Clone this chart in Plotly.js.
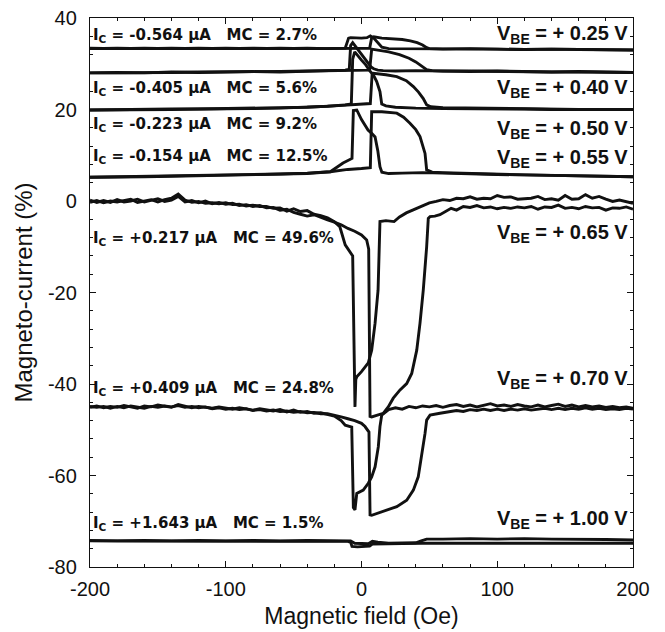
<!DOCTYPE html>
<html>
<head>
<meta charset="utf-8">
<script src="https://cdn.plot.ly/plotly-3.0.1.min.js"></script>
<style>html,body{margin:0;padding:0;background:#fff;}#chart{width:665px;height:632px;}</style>
</head>
<body>
<div id="chart"></div>
<script>
// ---- axis ticks ----
const xTickVals = [-200,-100,0,100,200];
const xTickText = ['-200','-100','0','100','200'];
const yTickVals = [-80,-60,-40,-20,0,20,40];
const yTickText = ['-80','-60','-40','-20','0','20','40'];
// ---- V_BE = +0.25 V ----
const xA_025 = [-200,-180,-160,-140,-120,-100,-80,-60,-40,-25,-12,-10.5,-9.5,-8,-4,0,4,6.5,9,12,15,20,30,45,60,80,100,120,140,160,180,200];
const yA_025 = [33.4,33.3,33.4,33.3,33.4,33.3,33.4,33.3,33.4,33.3,33.4,35.0,35.6,35.7,35.6,35.6,35.7,36.1,35.6,34.6,33.6,33.3,33.3,33.2,33.3,33.2,33.2,33.1,33.2,33.1,33.1,33.0];
const xB_025 = [-200,-180,-160,-140,-120,-100,-80,-60,-40,-20,0,6,7.5,9,15,22,30,36,41,45,48,50,60,80,100,120,140,160,180,200];
const yB_025 = [33.3,33.4,33.3,33.4,33.3,33.4,33.3,33.4,33.3,33.4,33.4,33.4,35.7,35.9,35.6,35.5,35.3,35.0,34.6,34.1,33.5,33.3,33.2,33.3,33.2,33.1,33.2,33.1,33.0,33.0];
// ---- V_BE = +0.40 V ----
const xA_040 = [-200,-180,-160,-140,-120,-100,-80,-60,-40,-25,-12,-9,-8,-6.5,-4,0,4,7,9,12,16,25,40,60,80,100,120,140,160,180,200];
const yA_040 = [28.0,28.1,28.0,28.2,28.1,28.2,28.3,28.2,28.4,28.5,28.6,28.8,34.0,34.6,33.6,31.9,30.3,29.3,28.9,28.6,28.5,28.4,28.5,28.4,28.3,28.4,28.3,28.2,28.3,28.2,28.1];
const xB_040 = [-200,-180,-160,-140,-120,-100,-80,-60,-40,-20,0,6,7.5,12,20,28,35,40,44,48,52,60,80,100,120,140,160,180,200];
const yB_040 = [28.0,28.0,28.1,28.1,28.2,28.2,28.2,28.3,28.4,28.5,28.6,28.6,33.2,33.0,32.6,32.0,31.2,30.4,29.6,28.7,28.5,28.4,28.4,28.3,28.3,28.2,28.2,28.1,28.1];
// ---- V_BE = +0.50 V ----
const xA_050 = [-200,-180,-160,-140,-120,-100,-80,-60,-40,-25,-12,-7.5,-6.5,-5,0,3,6.3,9,11.2,13.6,14.9,18,25,40,60,80,100,120,140,160,180,200];
const yA_050 = [19.9,19.9,20.0,20.0,20.1,20.1,20.2,20.3,20.5,20.7,21.0,21.2,31.0,32.6,30.8,29.8,28.4,27.4,26.1,23.9,21.2,20.8,20.5,20.3,20.2,20.2,20.1,20.1,20.0,20.0,20.0,20.0];
const xB_050 = [-200,-180,-160,-140,-120,-100,-80,-60,-40,-20,0,6.5,7.8,8.7,18,26,33,38.2,42,45.5,48,51,60,80,100,120,140,160,180,200];
const yB_050 = [19.9,20.0,20.0,20.1,20.1,20.2,20.2,20.3,20.5,20.8,21.1,21.3,27.6,27.9,27.6,27.2,26.3,25.0,23.8,22.4,21.0,20.6,20.4,20.3,20.2,20.1,20.1,20.0,20.0,20.0];
// ---- V_BE = +0.55 V ----
const xA_055 = [-200,-180,-160,-140,-120,-100,-80,-60,-40,-23,-13.6,-7,-6,-3.5,0,4.8,7.5,10,12,13.6,15,20,30,45,60,80,100,120,140,160,180,200];
const yA_055 = [5.2,5.3,5.3,5.4,5.5,5.6,5.7,5.9,6.1,6.4,8.3,9.3,19.8,19.9,17.8,15.5,14.8,14.0,11.0,7.5,6.3,6.0,6.1,6.2,6.1,5.9,5.8,5.7,5.6,5.5,5.4,5.3];
const xB_055 = [-200,-180,-160,-140,-120,-100,-80,-60,-40,-23,-10,0,6.5,7.5,15,26,31,35.7,40,43.1,46.8,48,52,60,80,100,120,140,160,180,200];
const yB_055 = [5.2,5.2,5.3,5.4,5.5,5.6,5.7,5.8,6.0,6.4,6.9,7.1,7.3,19.5,19.5,19.2,18.3,17.0,15.6,14.1,10.4,6.8,6.3,6.2,6.0,5.8,5.7,5.6,5.5,5.4,5.3];
// ---- V_BE = +0.65 V ----
const xA_065 = [-200,-195,-190,-185,-180,-175,-170,-165,-160,-155,-150,-145,-140,-135,-130,-125,-120,-115,-110,-105,-100,-95,-90,-85,-80,-75,-70,-65,-60,-55,-50,-45,-40,-35,-30,-25,-20,-16,-12,-8.5,-6.5,-4.8,-4.2,-3.5,0,5,7.5,10,12.2,13.6,18,24,28,33,38,43,50,55,60,65,70,75,80,85,90,95,100,105,110,115,120,125,130,135,140,145,150,155,160,165,170,175,180,185,190,195,200];
const yA_065 = [-0.3,0.1,-0.4,0.0,-0.2,0.1,0.4,-0.3,0.0,0.3,-0.2,0.3,0.6,1.5,0.2,-0.3,-0.1,-0.5,-0.4,-0.6,-0.4,-0.8,-0.7,-1.1,-0.9,-1.2,-1.2,-1.6,-1.5,-2.2,-1.7,-2.3,-2.1,-2.9,-3.2,-3.7,-4.5,-5.6,-9.6,-11.0,-12.0,-45.0,-39.0,-38.4,-37.3,-35.4,-32.6,-26.7,-19.5,-4.5,-4.3,-4.5,-3.5,-2.6,-2.0,-1.3,-0.4,-0.1,0.3,0.1,0.6,0.5,0.9,0.4,0.6,0.5,1.2,0.8,0.9,0.4,0.5,0.6,1.0,0.3,0.5,0.2,1.2,0.4,0.5,1.4,0.6,1.0,0.4,-0.1,0.2,-0.2,-0.5];
const xB_065 = [-200,-195,-190,-185,-180,-175,-170,-165,-160,-155,-150,-145,-140,-135,-130,-125,-120,-115,-110,-105,-100,-95,-90,-85,-80,-75,-70,-65,-60,-55,-50,-45,-40,-35,-30,-25,-20,-15,-10,-5,0,3.8,5.3,6.3,7.5,12,16,19.7,23.4,28.4,33.3,37,40.7,43.1,45.5,48,49.2,50.5,54,57.8,62,66,70,75,80,85,90,95,100,105,110,115,120,125,130,135,140,145,150,155,160,165,170,175,180,185,190,195,200];
const yB_065 = [0.2,-0.3,0.1,-0.3,0.3,-0.2,0.0,0.4,-0.2,0.2,0.5,-0.1,0.2,1.0,-0.2,0.1,-0.4,0.0,-0.6,-0.3,-0.7,-0.5,-1.0,-0.8,-1.2,-1.0,-1.5,-1.4,-2.0,-1.8,-2.5,-2.9,-3.3,-3.0,-3.6,-4.1,-4.6,-5.2,-6.0,-6.6,-7.4,-8.5,-10.5,-47.1,-47.2,-46.8,-46.4,-45.0,-43.1,-41.3,-39.9,-37.7,-32.6,-26.7,-19.5,-10.0,-3.8,-3.4,-3.3,-3.0,-2.3,-1.6,-2.0,-1.2,-1.4,-1.0,-1.5,-1.3,-1.7,-1.4,-1.6,-1.3,-1.5,-1.2,-1.8,-1.3,-1.4,-0.9,-1.6,-1.4,-1.7,-1.2,-1.5,-1.4,-2.0,-1.5,-1.6,-1.3,-1.8];
// ---- V_BE = +0.70 V ----
const xA_070 = [-200,-195,-190,-185,-180,-175,-170,-165,-160,-155,-150,-145,-140,-135,-130,-125,-120,-115,-110,-105,-100,-95,-90,-85,-80,-75,-70,-65,-60,-55,-50,-45,-40,-35,-30,-25,-20,-15,-12,-7.2,-6,-4.8,-3.5,1.3,5,7.5,10,12.4,13.6,14.9,20,25,30,35,40,45,50,55,60,65,70,75,80,85,90,95,100,105,110,115,120,125,130,135,140,145,150,155,160,165,170,175,180,185,190,195,200];
const yA_070 = [-45.1,-44.8,-45.2,-44.9,-45.1,-44.7,-45.0,-45.3,-44.8,-45.0,-44.6,-44.9,-45.1,-44.5,-44.9,-45.2,-44.9,-45.1,-45.3,-45.0,-45.3,-45.5,-45.2,-45.5,-45.7,-45.4,-45.7,-45.9,-45.6,-46.1,-45.7,-46.2,-46.0,-46.4,-46.3,-46.7,-47.0,-48.0,-49.0,-49.4,-67.0,-67.5,-63.9,-63.2,-61.7,-60.3,-58.1,-53.7,-49.3,-46.8,-45.6,-45.2,-45.5,-44.9,-45.2,-44.8,-45.0,-44.7,-45.1,-44.7,-44.5,-44.9,-44.6,-45.0,-44.7,-44.3,-44.8,-44.6,-44.9,-44.5,-44.8,-45.0,-44.6,-45.0,-44.7,-44.4,-44.9,-44.6,-45.0,-44.7,-45.0,-44.8,-45.1,-44.9,-45.2,-45.0,-45.3];
const xB_070 = [-200,-195,-190,-185,-180,-175,-170,-165,-160,-155,-150,-145,-140,-135,-130,-125,-120,-115,-110,-105,-100,-95,-90,-85,-80,-75,-70,-65,-60,-55,-50,-45,-40,-35,-30,-25,-20,-15,-10,-5,0,2.6,5.5,6.3,7.5,16,26,33.3,38.2,41.8,44.3,46.8,48,50.5,57.8,65,70,75,80,85,90,95,100,105,110,115,120,125,130,135,140,145,150,155,160,165,170,175,180,185,190,195,200];
const yB_070 = [-44.9,-45.1,-44.9,-45.3,-44.9,-45.2,-44.8,-45.1,-45.3,-44.9,-45.1,-44.8,-45.0,-44.7,-45.1,-44.9,-45.2,-45.0,-45.4,-45.2,-45.5,-45.3,-45.6,-45.4,-45.8,-45.6,-45.9,-45.7,-46.0,-45.9,-46.2,-46.0,-46.3,-46.2,-46.5,-46.5,-46.8,-47.2,-47.6,-48.0,-48.6,-49.3,-50.5,-68.6,-68.7,-67.9,-66.8,-65.4,-63.2,-60.3,-55.9,-50.8,-47.9,-46.8,-46.4,-46.0,-45.8,-46.0,-45.6,-45.8,-45.5,-45.8,-45.5,-45.8,-45.5,-45.7,-45.4,-45.7,-45.5,-45.3,-45.6,-45.3,-45.6,-45.3,-45.5,-45.2,-45.5,-45.3,-45.6,-45.4,-45.6,-45.3,-45.5];
// ---- V_BE = +1.00 V ----
const xA_100 = [-200,-180,-160,-140,-120,-100,-80,-60,-40,-20,-10,-8,-7,-3,2,6,8,12,20,30,45,60,80,100,120,140,160,180,200];
const yA_100 = [-74.3,-74.3,-74.4,-74.3,-74.3,-74.4,-74.3,-74.3,-74.4,-74.3,-74.4,-74.6,-75.5,-75.6,-75.5,-75.4,-75.0,-75.0,-74.9,-74.9,-74.8,-74.8,-74.7,-74.7,-74.8,-74.7,-74.8,-74.8,-74.8];
const xB_100 = [-200,-180,-160,-140,-120,-100,-80,-60,-40,-20,-8,-5,0,5,8,12,20,30,40,44,48,60,80,100,120,140,160,180,200];
const yB_100 = [-74.2,-74.3,-74.2,-74.3,-74.2,-74.3,-74.2,-74.3,-74.2,-74.3,-74.3,-74.8,-74.9,-74.9,-74.4,-74.6,-74.8,-74.8,-74.7,-74.3,-73.9,-73.9,-73.8,-73.9,-73.8,-73.9,-73.9,-74.0,-74.1];

// ---- labels ----
const icLabels = ['I<sub>C</sub> = -0.564 \u03bcA \u00a0\u00a0MC = 2.7%','I<sub>C</sub> = -0.405 \u03bcA \u00a0\u00a0MC = 5.6%','I<sub>C</sub> = -0.223 \u03bcA \u00a0\u00a0MC = 9.2%','I<sub>C</sub> = -0.154 \u03bcA \u00a0\u00a0MC = 12.5%','I<sub>C</sub> = +0.217 \u03bcA \u00a0\u00a0MC = 49.6%','I<sub>C</sub> = +0.409 \u03bcA \u00a0\u00a0MC = 24.8%','I<sub>C</sub> = +1.643 \u03bcA \u00a0\u00a0MC = 1.5%'];
const icLabelY = [36.1, 24.7, 16.8, 9.8, -8.3, -40.9, -70.4];
const vbeLabels = ['V<sub>BE</sub> = + 0.25 V','V<sub>BE</sub> = + 0.40 V','V<sub>BE</sub> = + 0.50 V','V<sub>BE</sub> = + 0.55 V','V<sub>BE</sub> = + 0.65 V','V<sub>BE</sub> = + 0.70 V','V<sub>BE</sub> = + 1.00 V'];
const vbeLabelY = [36.5, 24.5, 15.6, 9.2, -7.2, -39.1, -69.7];

const branches = [
  [xA_025,yA_025],[xB_025,yB_025],[xA_040,yA_040],[xB_040,yB_040],
  [xA_050,yA_050],[xB_050,yB_050],[xA_055,yA_055],[xB_055,yB_055],
  [xA_065,yA_065],[xB_065,yB_065],[xA_070,yA_070],[xB_070,yB_070],
  [xA_100,yA_100],[xB_100,yB_100]
];
const traces = branches.map(b => ({
  x: b[0], y: b[1], type: 'scatter', mode: 'lines',
  line: {color: '#111', width: 2.9, shape: 'linear'},
  hoverinfo: 'skip', showlegend: false
}));

const annotations = [];
icLabels.forEach((t, i) => annotations.push({
  x: -199.5, y: icLabelY[i], xref: 'x', yref: 'y', text: t, showarrow: false,
  xanchor: 'left', yanchor: 'middle',
  font: {family: 'DejaVu Sans', size: 15, color: '#111', weight: 'bold'}
}));
vbeLabels.forEach((t, i) => annotations.push({
  x: 198, y: vbeLabelY[i], xref: 'x', yref: 'y', text: t, showarrow: false,
  xanchor: 'right', yanchor: 'middle',
  font: {family: 'Liberation Sans', size: 20, color: '#111', weight: 'bold'}
}));

const axisFont = {family: 'Liberation Sans, Arial, sans-serif', size: 20, color: '#111'};
const layout = {
  width: 665, height: 632,
  margin: {l: 90, r: 32, t: 18, b: 65},
  paper_bgcolor: '#fff', plot_bgcolor: '#fff',
  showlegend: false,
  xaxis: {
    range: [-200, 200], tickmode: 'array', tickvals: xTickVals, ticktext: xTickText,
    ticks: 'inside', ticklen: 6, tickwidth: 1, tickcolor: '#111',
    minor: {dtick: 20, ticks: 'inside', ticklen: 3, tickcolor: '#111'},
    showline: true, linecolor: '#111', linewidth: 1.2, mirror: 'allticks',
    showgrid: false, zeroline: false, tickfont: axisFont,
    ticklabelstandoff: 4,
    title: {text: 'Magnetic field (Oe)', font: {family: 'Liberation Sans, Arial, sans-serif', size: 23, color: '#111'}, standoff: 8}
  },
  yaxis: {
    range: [-80, 40], tickmode: 'array', tickvals: yTickVals, ticktext: yTickText,
    ticks: 'inside', ticklen: 6, tickwidth: 1, tickcolor: '#111',
    minor: {dtick: 4, ticks: 'inside', ticklen: 3, tickcolor: '#111'},
    showline: true, linecolor: '#111', linewidth: 1.2, mirror: 'allticks',
    showgrid: false, zeroline: false, tickfont: axisFont,
    ticklabelstandoff: 8,
    title: {text: 'Magneto-current (%)', font: {family: 'Liberation Sans, Arial, sans-serif', size: 24, color: '#111'}, standoff: 8}
  },
  annotations: annotations
};
Plotly.newPlot('chart', traces, layout, {displayModeBar: false, staticPlot: true});
</script>
</body>
</html>
